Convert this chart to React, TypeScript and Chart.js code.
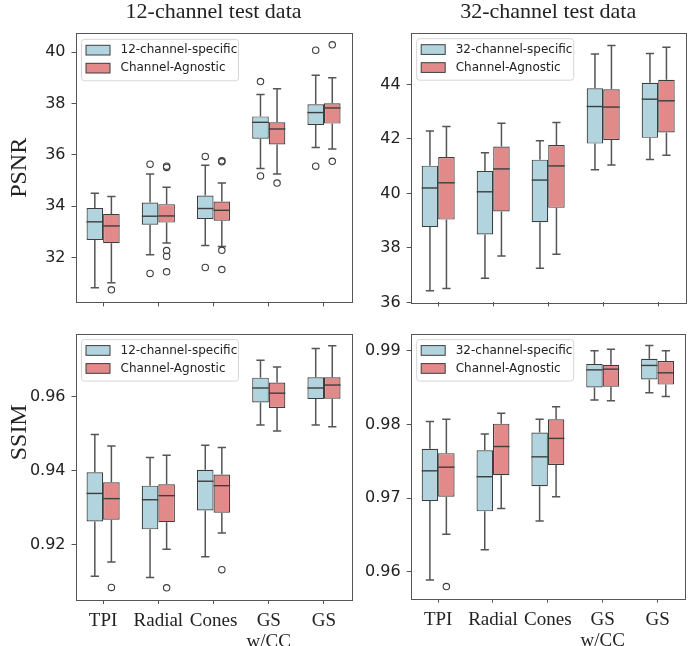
import React, { useEffect, useRef } from 'react';
import { Chart, registerables } from 'chart.js';

Chart.register(...registerables);

// ---------------- data ----------------
const CATEGORIES: (string | string[])[] = ['TPI', 'Radial', 'Cones', ['GS', 'w/CC'], 'GS'];

const PSNR_TICKS_12 = [32, 34, 36, 38, 40];
const PSNR_TICKS_32 = [36, 38, 40, 42, 44];
const SSIM_TICKS_12 = [0.92, 0.94, 0.96];
const SSIM_TICKS_32 = [0.96, 0.97, 0.98, 0.99];

// PSNR, 12-channel, 12-channel-specific
const P12S_LO = [30.82, 32.11, 32.47, 35.47, 36.29];
const P12S_Q1 = [32.68, 33.28, 33.5, 36.63, 37.17];
const P12S_MED = [33.39, 33.61, 33.91, 37.27, 37.65];
const P12S_Q3 = [33.93, 34.14, 34.42, 37.5, 37.97];
const P12S_HI = [34.5, 35.26, 35.6, 38.35, 39.1];
const P12S_OUT = [[], [35.64, 31.38], [35.94, 31.61], [38.86, 35.18], [40.08, 35.56]];
// PSNR, 12-channel, Channel-Agnostic
const P12A_LO = [31.02, 32.57, 32.43, 35.26, 36.23];
const P12A_Q1 = [32.56, 33.36, 33.43, 36.41, 37.22];
const P12A_MED = [33.23, 33.62, 33.84, 37.01, 37.83];
const P12A_Q3 = [33.7, 34.08, 34.18, 37.27, 38.01];
const P12A_HI = [34.38, 34.74, 34.9, 38.58, 39.01];
const P12A_OUT = [[30.74], [35.56, 35.51, 32.27, 32.05, 31.44], [35.77, 35.73, 32.28, 31.53], [34.9], [40.29, 35.75]];

// PSNR, 32-channel, 32-channel-specific
const P32S_LO = [36.43, 36.89, 37.25, 40.87, 41.25];
const P32S_Q1 = [38.77, 38.49, 38.94, 41.83, 42.04];
const P32S_MED = [40.2, 40.06, 40.49, 43.19, 43.46];
const P32S_Q3 = [41.02, 40.82, 41.24, 43.86, 44.06];
const P32S_HI = [42.29, 41.49, 41.93, 45.12, 45.14];
const P32S_OUT = [[], [], [], [], []];
// PSNR, 32-channel, Channel-Agnostic
const P32A_LO = [36.51, 37.7, 37.77, 41.04, 41.4];
const P32A_Q1 = [39.04, 39.34, 39.47, 41.96, 42.24];
const P32A_MED = [40.39, 40.9, 41.01, 43.17, 43.4];
const P32A_Q3 = [41.34, 41.72, 41.78, 43.82, 44.17];
const P32A_HI = [42.46, 42.58, 42.6, 45.43, 45.37];
const P32A_OUT = [[], [], [], [], []];

// SSIM, 12-channel, 12-channel-specific
const S12S_LO = [0.9115, 0.9112, 0.9168, 0.9524, 0.9524];
const S12S_Q1 = [0.9263, 0.9242, 0.9293, 0.9585, 0.9594];
const S12S_MED = [0.9339, 0.9322, 0.9372, 0.9624, 0.9624];
const S12S_Q3 = [0.9396, 0.936, 0.9403, 0.9652, 0.9653];
const S12S_HI = [0.9498, 0.9436, 0.9469, 0.9699, 0.9731];
const S12S_OUT = [[], [], [], [], []];
// SSIM, 12-channel, Channel-Agnostic
const S12A_LO = [0.9154, 0.9188, 0.9232, 0.9508, 0.9519];
const S12A_Q1 = [0.9268, 0.9261, 0.9287, 0.957, 0.9595];
const S12A_MED = [0.9325, 0.9333, 0.936, 0.961, 0.9632];
const S12A_Q3 = [0.9369, 0.9364, 0.939, 0.9639, 0.9653];
const S12A_HI = [0.9467, 0.9442, 0.9463, 0.9681, 0.9738];
const S12A_OUT = [[0.9085], [0.9084], [0.9133], [], []];

// SSIM, 32-channel, 32-channel-specific
const S32S_LO = [0.9589, 0.963, 0.9669, 0.9833, 0.9843];
const S32S_Q1 = [0.9696, 0.9682, 0.9716, 0.985, 0.9861];
const S32S_MED = [0.9737, 0.9729, 0.9756, 0.9874, 0.988];
const S32S_Q3 = [0.9767, 0.9765, 0.9789, 0.9882, 0.9889];
const S32S_HI = [0.9804, 0.9787, 0.9807, 0.99, 0.9907];
const S32S_OUT = [[], [], [], [], []];
// SSIM, 32-channel, Channel-Agnostic
const S32A_LO = [0.9651, 0.9686, 0.9702, 0.9832, 0.9838];
const S32A_Q1 = [0.9702, 0.9731, 0.9745, 0.9851, 0.9854];
const S32A_MED = [0.9742, 0.977, 0.9781, 0.9875, 0.987];
const S32A_Q3 = [0.9761, 0.9801, 0.9807, 0.9881, 0.9886];
const S32A_HI = [0.9807, 0.9815, 0.9824, 0.9902, 0.99];
const S32A_OUT = [[0.958], [], [], [], []];

// ---------------- styles ----------------
const BLUE = 'rgb(178,212,223)';
const RED = 'rgb(226,138,138)';
const LINE = '#3d3d3d';
const WHISK = '#555555';
const TEXT = '#222222';
const SERIF = '"Liberation Serif", "Times New Roman", serif';
const SANS = '"DejaVu Sans", sans-serif';

type Stats = { lo: number[]; q1: number[]; med: number[]; q3: number[]; hi: number[]; out: number[][] };

const mk = (lo: number[], q1: number[], med: number[], q3: number[], hi: number[], out: number[][]): Stats => ({
  lo, q1, med, q3, hi, out,
});

const boxPlugin = {
  id: 'boxDetails',
  afterDatasetsDraw(chart: any) {
    const ctx = chart.ctx;
    const ys = chart.scales.y;
    chart.data.datasets.forEach((ds: any, di: number) => {
      const meta = chart.getDatasetMeta(di);
      const st: Stats = ds.stats;
      meta.data.forEach((el: any, i: number) => {
        const { x, width } = el.getProps(['x', 'width'], true);
        const half = width / 2;
        const p = (v: number) => ys.getPixelForValue(v);
        ctx.save();
        ctx.lineCap = 'butt';
        // whiskers
        ctx.strokeStyle = WHISK;
        ctx.lineWidth = 1.5;
        ctx.beginPath();
        ctx.moveTo(x, p(st.q3[i]));
        ctx.lineTo(x, p(st.hi[i]));
        ctx.moveTo(x, p(st.q1[i]));
        ctx.lineTo(x, p(st.lo[i]));
        ctx.moveTo(x - half / 2, p(st.hi[i]));
        ctx.lineTo(x + half / 2, p(st.hi[i]));
        ctx.moveTo(x - half / 2, p(st.lo[i]));
        ctx.lineTo(x + half / 2, p(st.lo[i]));
        ctx.stroke();
        // median
        ctx.strokeStyle = LINE;
        ctx.lineWidth = 1.4;
        ctx.beginPath();
        ctx.moveTo(x - half, p(st.med[i]));
        ctx.lineTo(x + half, p(st.med[i]));
        ctx.stroke();
        // outliers
        ctx.strokeStyle = LINE;
        ctx.lineWidth = 1.1;
        for (const v of st.out[i]) {
          ctx.beginPath();
          ctx.arc(x, p(v), 3.2, 0, Math.PI * 2);
          ctx.stroke();
        }
        ctx.restore();
      });
    });
  },
  afterDraw(chart: any, _args: any, opts: any) {
    const ctx = chart.ctx;
    const a = chart.chartArea;
    // frame
    ctx.save();
    ctx.strokeStyle = '#555';
    ctx.lineWidth = 1;
    ctx.strokeRect(Math.round(a.left) + 0.5, Math.round(a.top) + 0.5, Math.round(a.right - a.left), Math.round(a.bottom - a.top));
    // legend
    const L = a.left + 6;
    const T = a.top + 6;
    const W = 157;
    const H = 41.5;
    ctx.beginPath();
    const r = 3;
    ctx.moveTo(L + r, T);
    ctx.arcTo(L + W, T, L + W, T + H, r);
    ctx.arcTo(L + W, T + H, L, T + H, r);
    ctx.arcTo(L, T + H, L, T, r);
    ctx.arcTo(L, T, L + W, T, r);
    ctx.closePath();
    ctx.fillStyle = 'rgba(255,255,255,0.85)';
    ctx.fill();
    ctx.strokeStyle = '#d6d6d6';
    ctx.lineWidth = 1;
    ctx.stroke();
    chart.data.datasets.forEach((ds: any, di: number) => {
      const sy = T + 6 + di * 18;
      ctx.fillStyle = ds.backgroundColor;
      ctx.fillRect(L + 4.5, sy, 24, 9.7);
      ctx.strokeStyle = LINE;
      ctx.lineWidth = 1;
      ctx.strokeRect(L + 4.5, sy, 24, 9.7);
      ctx.fillStyle = TEXT;
      ctx.font = `12px ${SANS}`;
      ctx.textAlign = 'left';
      ctx.textBaseline = 'middle';
      ctx.fillText(ds.label, L + 39, sy + 5);
    });
    // texts
    for (const t of opts.texts || []) {
      ctx.save();
      ctx.fillStyle = TEXT;
      ctx.font = t.font;
      ctx.textAlign = 'center';
      ctx.textBaseline = 'middle';
      const cx = t.x === 'center' ? (a.left + a.right) / 2 : t.x;
      const cy = t.y === 'center' ? (a.top + a.bottom) / 2 + (t.dy || 0) : t.y;
      ctx.translate(cx, cy);
      if (t.rot) ctx.rotate(-Math.PI / 2);
      ctx.fillText(t.text, 0, 0);
      ctx.restore();
    }
    ctx.restore();
  },
};

type PanelCfg = {
  x: number; y: number; w: number; h: number;
  plotL: number; plotR: number; plotT: number; plotB: number;
  yMin: number; yMax: number; ticks: number[]; decimals: number;
  showX: boolean;
  specLabel: string;
  spec: Stats; agn: Stats;
  texts: any[];
};

function Panel({ cfg }: { cfg: PanelCfg }) {
  const ref = useRef<HTMLCanvasElement>(null);
  useEffect(() => {
    const c = cfg;
    const chart = new Chart(ref.current as HTMLCanvasElement, {
      type: 'bar',
      data: {
        labels: CATEGORIES as any,
        datasets: [
          {
            label: c.specLabel,
            data: c.spec.q1.map((q, i) => [q, c.spec.q3[i]]) as any,
            backgroundColor: BLUE,
            borderColor: LINE,
            borderWidth: 1.2,
            borderSkipped: false,
            categoryPercentage: 0.6,
            barPercentage: 1,
            stats: c.spec,
          } as any,
          {
            label: 'Channel-Agnostic',
            data: c.agn.q1.map((q, i) => [q, c.agn.q3[i]]) as any,
            backgroundColor: RED,
            borderColor: LINE,
            borderWidth: 1.2,
            borderSkipped: false,
            categoryPercentage: 0.6,
            barPercentage: 1,
            stats: c.agn,
          } as any,
        ],
      },
      options: {
        animation: false,
        responsive: false,
        events: [],
        layout: {
          padding: { left: 0, right: c.w - (c.plotR - c.x), top: c.plotT - c.y, bottom: 0 },
        },
        plugins: {
          legend: { display: false },
          tooltip: { enabled: false },
          title: { display: false },
          boxDetails: { texts: c.texts },
        } as any,
        scales: {
          x: {
            type: 'category',
            offset: true,
            grid: { display: true, drawOnChartArea: false, drawTicks: true, tickLength: 4, color: '#555', offset: false },
            border: { display: false },
            ticks: {
              display: c.showX,
              color: TEXT,
              font: { family: SERIF, size: 19, lineHeight: 1.1 },
              padding: 6.5,
              maxRotation: 0,
              autoSkip: false,
            },
            afterFit: (s: any) => {
              s.height = c.y + c.h - c.plotB;
            },
          },
          y: {
            type: 'linear',
            min: c.yMin,
            max: c.yMax,
            grid: { display: true, drawOnChartArea: false, drawTicks: true, tickLength: 4, color: '#555' },
            border: { display: false },
            ticks: {
              color: TEXT,
              font: { family: SANS, size: 16 },
              padding: 6,
              callback: (v: any) => Number(v).toFixed(c.decimals),
            },
            afterBuildTicks: (s: any) => {
              s.ticks = c.ticks.map((v) => ({ value: v }));
            },
            afterFit: (s: any) => {
              s.width = c.plotL - c.x;
            },
          },
        },
      } as any,
      plugins: [boxPlugin],
    });
    return () => chart.destroy();
  }, []);
  return (
    <canvas
      ref={ref}
      width={cfg.w}
      height={cfg.h}
      style={{ position: 'absolute', left: cfg.x, top: cfg.y, width: cfg.w, height: cfg.h }}
    />
  );
}

const TITLE_FONT = `22px ${SERIF}`;
const YLABEL_FONT = `24px ${SERIF}`;

const PANELS: PanelCfg[] = [
  {
    x: 0, y: 0, w: 358, h: 318,
    plotL: 75.5, plotR: 351.6, plotT: 33.3, plotB: 309,
    yMin: 30.25, yMax: 40.74, ticks: PSNR_TICKS_12, decimals: 0, showX: false,
    specLabel: '12-channel-specific',
    spec: mk(P12S_LO, P12S_Q1, P12S_MED, P12S_Q3, P12S_HI, P12S_OUT),
    agn: mk(P12A_LO, P12A_Q1, P12A_MED, P12A_Q3, P12A_HI, P12A_OUT),
    texts: [
      { text: '12-channel test data', x: 'center', y: 12, font: TITLE_FONT },
      { text: 'PSNR', x: 19.5, y: 'center', rot: true, font: YLABEL_FONT },
    ],
  },
  {
    x: 352, y: 0, w: 340, h: 318,
    plotL: 410.7, plotR: 685.7, plotT: 32.7, plotB: 306.7,
    yMin: 36, yMax: 45.9, ticks: PSNR_TICKS_32, decimals: 0, showX: false,
    specLabel: '32-channel-specific',
    spec: mk(P32S_LO, P32S_Q1, P32S_MED, P32S_Q3, P32S_HI, P32S_OUT),
    agn: mk(P32A_LO, P32A_Q1, P32A_MED, P32A_Q3, P32A_HI, P32A_OUT),
    texts: [{ text: '32-channel test data', x: 'center', y: 12, font: TITLE_FONT }],
  },
  {
    x: 0, y: 318, w: 358, h: 328,
    plotL: 75.5, plotR: 351.6, plotT: 325.7, plotB: 600,
    yMin: 0.9051, yMax: 0.9771, ticks: SSIM_TICKS_12, decimals: 2, showX: true,
    specLabel: '12-channel-specific',
    spec: mk(S12S_LO, S12S_Q1, S12S_MED, S12S_Q3, S12S_HI, S12S_OUT),
    agn: mk(S12A_LO, S12A_Q1, S12A_MED, S12A_Q3, S12A_HI, S12A_OUT),
    texts: [{ text: 'SSIM', x: 19.5, y: 'center', dy: -34.5, rot: true, font: YLABEL_FONT }],
  },
  {
    x: 352, y: 318, w: 340, h: 328,
    plotL: 410.7, plotR: 685, plotT: 325.7, plotB: 598.7,
    yMin: 0.95635, yMax: 0.99232, ticks: SSIM_TICKS_32, decimals: 2, showX: true,
    specLabel: '32-channel-specific',
    spec: mk(S32S_LO, S32S_Q1, S32S_MED, S32S_Q3, S32S_HI, S32S_OUT),
    agn: mk(S32A_LO, S32A_Q1, S32A_MED, S32A_Q3, S32A_HI, S32A_OUT),
    texts: [],
  },
];

export default function App() {
  return (
    <div style={{ position: 'fixed', left: 0, top: 0, width: 692, height: 646, background: '#fff' }}>
      {PANELS.map((p, i) => (
        <Panel key={i} cfg={p} />
      ))}
    </div>
  );
}
